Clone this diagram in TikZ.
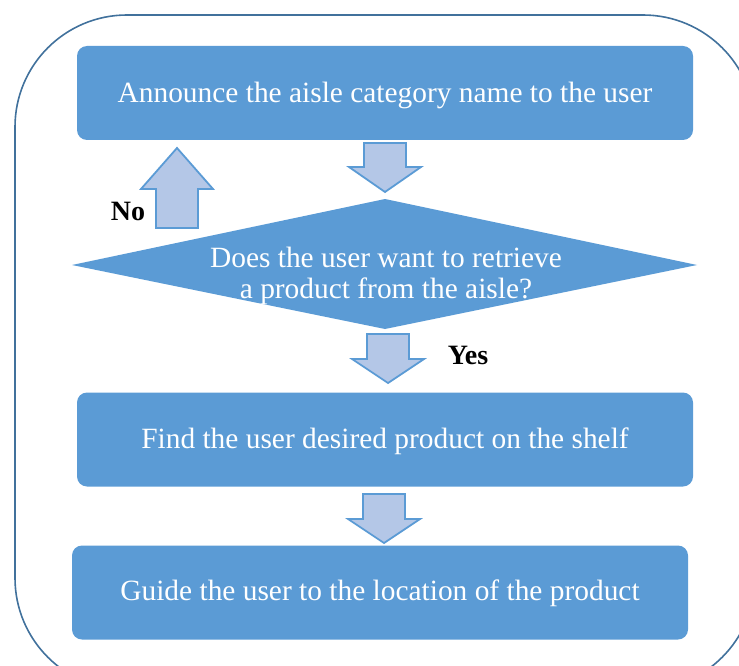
\documentclass[tikz,border=0pt]{standalone}
\usepackage{fontspec}
\setmainfont{Liberation Serif}
\definecolor{boxblue}{HTML}{5B9BD5}
\definecolor{arrowfill}{HTML}{B4C7E7}
\definecolor{framecol}{HTML}{41719C}
\tikzset{
  stepbox/.style={fill=boxblue, draw=none, rounded corners=10pt, minimum width=616pt,
    minimum height=94pt, inner sep=0pt},
  steptext/.style={text=white, anchor=base, inner sep=0pt,
    font=\fontsize{29.4}{31}\selectfont},
  decision/.style={fill=boxblue, draw=none},
  dectext/.style={text=white, align=center, inner sep=0pt, anchor=base,
    font=\fontsize{29.4}{31}\selectfont},
  flowarrow/.style={fill=arrowfill, draw=boxblue, line width=1.8pt, line join=miter},
  answer/.style={font=\bfseries\fontsize{28}{30}\selectfont, inner sep=0pt, anchor=base},
}
% block arrow: centre x, tail y, head-base y, tip y
\newcommand\blockarrow[4]{%
  \draw[flowarrow] ({#1-21},#2) -- ({#1+21},#2) -- ({#1+21},#3) -- ({#1+36},#3)
    -- (#1,#4) -- ({#1-36},#3) -- ({#1-21},#3) -- cycle;}
\begin{document}
\begin{tikzpicture}[x=1pt,y=-1pt]
\useasboundingbox (0,0) rectangle (739,666);
\begin{scope}
  \clip (0,0) rectangle (739,666);
  \draw[framecol, line width=1.6pt, rounded corners=112pt] (15,15) rectangle (755,690);
\end{scope}

% process steps
\node[stepbox] (announce) at (385,93) {};
\node[steptext] (announceText) at (385,103) {Announce the aisle category name to the user};
\node[stepbox] (find) at (385,439.5) {};
\node[steptext] (findText) at (385,448) {Find the user desired product on the shelf};
\node[stepbox] (guide) at (380,592.5) {};
\node[steptext] (guideText) at (380,600) {Guide the user to the location of the product};

% decision diamond
\coordinate (dT) at (385,199);
\coordinate (dR) at (697,265);
\coordinate (dB) at (385,329);
\coordinate (dL) at (72,265);
\fill[decision] (dT) -- (dR) -- (dB) -- (dL) -- cycle;
\node[dectext] (decide) at (386,298) {Does the user want to retrieve\\a product from the aisle?};

% connectors
\blockarrow{385}{143}{167}{192}
\blockarrow{177}{228}{189}{148}
\blockarrow{388}{334}{359}{383}
\blockarrow{384}{494}{519}{543}

\node[answer] (no) at (128,220) {No};
\node[answer] (yes) at (468,364) {Yes};
\end{tikzpicture}
\end{document}
